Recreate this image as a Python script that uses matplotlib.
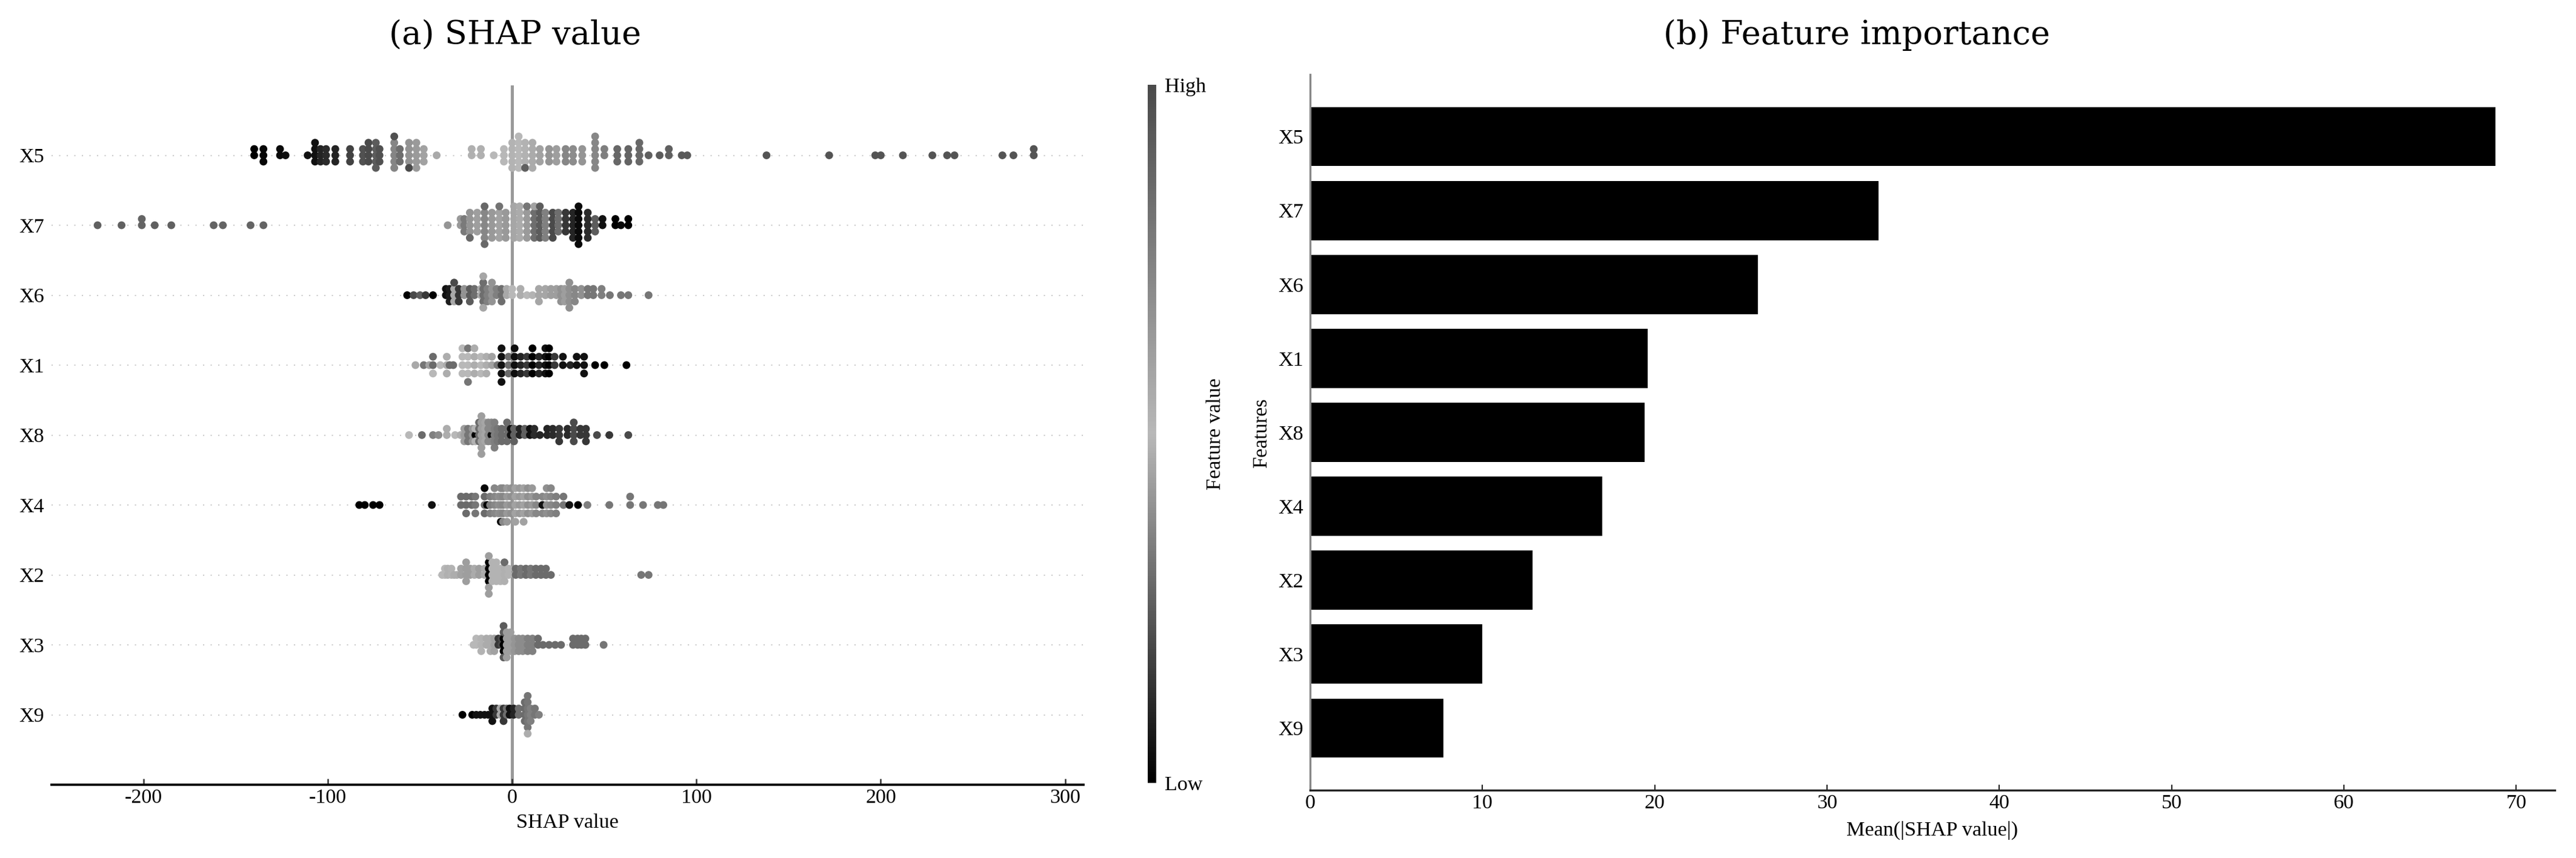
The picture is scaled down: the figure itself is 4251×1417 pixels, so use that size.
import numpy as np
import matplotlib
matplotlib.use('Agg')
import matplotlib.pyplot as plt
from matplotlib.colors import LinearSegmentedColormap
from matplotlib.cm import ScalarMappable

plt.rcParams['font.family'] = ['Liberation Serif', 'DejaVu Serif']
plt.rcParams['font.size'] = 8.2
plt.rcParams['axes.unicode_minus'] = False

#==========================================
# Datos.
# Cada punto: (valor SHAP, cantidad apilada, valor de la variable 0-1)
#==========================================

features = ['X5', 'X7', 'X6', 'X1', 'X8', 'X4', 'X2', 'X3', 'X9']  # de arriba hacia abajo

x5_pts = [(-140, 2, 0.00), (-135, 3, 0.02), (-126, 2, 0.03), (-123, 1, 0.04),
          (-111, 1, 0.05), (-107, 4, 0.05), (-104, 3, 0.10), (-101, 3, 0.12), (-96, 3, 0.10),
          (-88, 3, 0.18), (-81, 3, 0.22), (-78, 4, 0.20), (-74, 5, 0.25), (-72, 3, 0.22),
          (-64, 5, 0.36), (-64, 1, 0.22), (-61, 3, 0.30), (-56, 4, 0.40), (-56, 1, 0.20),
          (-52, 5, 0.42), (-48, 3, 0.44), (-41, 1, 0.46), (-22, 2, 0.48), (-17, 2, 0.48),
          (-10, 1, 0.50), (-4.5, 3, 0.50), (0, 5, 0.52), (3.5, 6, 0.50), (7, 4, 0.53), (7, 1, 0.90),
          (11, 5, 0.56), (15, 3, 0.60), (20, 3, 0.66), (24, 3, 0.62), (29, 3, 0.72), (33, 3, 0.70),
          (38, 3, 0.66), (45, 6, 0.72), (50, 2, 0.76), (57, 3, 0.86), (63, 3, 0.88), (69, 4, 0.86),
          (74, 1, 0.90), (80, 1, 0.92), (85, 2, 0.90), (92, 1, 0.93), (95, 1, 0.93),
          (138, 1, 0.95), (172, 1, 0.95), (197, 1, 0.95), (200, 1, 0.95), (212, 1, 0.95),
          (228, 1, 0.95), (236, 1, 0.95), (240, 1, 0.95), (266, 1, 0.95), (272, 1, 0.95), (283, 2, 0.95)]

x7_pts = [(-225, 1, 0.90), (-212, 1, 0.90), (-201, 2, 0.88), (-194, 1, 0.90), (-185, 1, 0.90),
          (-162, 1, 0.88), (-157, 1, 0.88), (-142, 1, 0.88), (-135, 1, 0.88), (-35, 1, 0.66),
          (-28, 2, 0.64), (-26, 3, 0.78), (-23, 4, 0.66), (-23, 1, 0.86), (-19, 4, 0.62),
          (-15, 5, 0.72), (-15, 2, 0.86), (-11, 5, 0.64), (-7, 5, 0.60), (-7, 1, 0.82),
          (-3.5, 5, 0.64), (1, 6, 0.58), (4, 6, 0.56), (8, 5, 0.42), (8, 1, 0.80),
          (12, 5, 0.30), (12, 1, 0.60), (15, 6, 0.25), (18, 5, 0.35), (22, 5, 0.20), (25, 4, 0.30),
          (29, 4, 0.15), (33, 5, 0.10), (36, 7, 0.03), (41, 5, 0.12), (45, 3, 0.25), (49, 2, 0.05),
          (56, 2, 0.00), (59, 1, 0.02), (63, 2, 0.00)]

x6_pts = [(-57, 1, 0.00), (-53.5, 1, 0.20), (-50, 1, 0.25), (-47, 1, 0.15), (-43, 1, 0.00),
          (-36, 2, 0.05), (-34, 3, 0.08), (-31.5, 3, 0.46), (-31.5, 1, 0.20), (-29, 3, 0.15),
          (-26, 2, 0.40), (-23, 3, 0.25), (-20.5, 2, 0.30), (-17, 2, 0.46), (-15.7, 4, 0.30),
          (-15.7, 2, 0.45), (-13.5, 3, 0.35), (-11, 4, 0.40), (-8.5, 2, 0.35), (-5.8, 3, 0.30),
          (-3, 2, 0.46), (0, 2, 0.50), (4.5, 2, 0.55), (8, 1, 0.50), (11, 1, 0.52), (14.5, 3, 0.58),
          (18, 2, 0.58), (21, 2, 0.62), (24, 2, 0.62), (26.5, 3, 0.67), (28.5, 3, 0.62), (31, 5, 0.68),
          (34, 3, 0.72), (37.5, 2, 0.68), (41, 2, 0.80), (44, 2, 0.80), (48.5, 2, 0.76),
          (53, 1, 0.80), (59, 1, 0.80), (63, 1, 0.80), (74, 1, 0.80)]

x1_pts = [(-52.5, 1, 0.46), (-48, 1, 0.80), (-45, 1, 0.60), (-43, 2, 0.85), (-43, 1, 0.50),
          (-39, 1, 0.50), (-35.5, 3, 0.55), (-34, 1, 0.85), (-32, 1, 0.85), (-27, 4, 0.50),
          (-24, 3, 0.50), (-24, 2, 0.80), (-20.5, 4, 0.55), (-17, 3, 0.50), (-14, 3, 0.55),
          (-11, 2, 0.60), (-8, 1, 0.80), (-5.8, 5, 0.05), (-2, 3, 0.85), (1.3, 4, 0.04),
          (4.6, 3, 0.10), (8, 3, 0.15), (11, 4, 0.00), (14.5, 3, 0.10), (18, 4, 0.05), (20, 4, 0.00),
          (23, 2, 0.15), (27.5, 2, 0.05), (31.5, 1, 0.10), (35, 2, 0.05), (39, 3, 0.05),
          (45, 1, 0.00), (50, 1, 0.00), (62, 1, 0.00)]

x8_pts = [(-56, 1, 0.50), (-49, 1, 0.85), (-43, 1, 0.75), (-40, 1, 0.70), (-35.5, 2, 0.55),
          (-31, 1, 0.50), (-28, 1, 0.55), (-26, 3, 0.62), (-24, 3, 0.80), (-21.5, 3, 0.66),
          (-20, 1, 0.00), (-20, 2, 0.52), (-18, 4, 0.85), (-16.7, 7, 0.62), (-14.7, 4, 0.58),
          (-13, 4, 0.72), (-11.3, 1, 0.04), (-11.3, 3, 0.72), (-9.6, 5, 0.76), (-8, 3, 0.80),
          (-5.7, 3, 0.85), (-2.8, 4, 0.85), (-0.8, 2, 0.05), (1, 3, 0.90), (4, 2, 0.10),
          (6.8, 2, 0.90), (9.6, 2, 0.05), (12, 2, 0.12), (15, 1, 0.10), (19, 2, 0.10), (22, 2, 0.12),
          (25.5, 3, 0.15), (30, 2, 0.12), (33.4, 4, 0.20), (37, 2, 0.15), (40, 3, 0.15),
          (46, 1, 0.20), (52.7, 1, 0.15), (63, 1, 0.20)]

x4_pts = [(-83, 1, 0.00), (-80, 1, 0.00), (-75.5, 1, 0.00), (-72, 1, 0.00), (-43.6, 1, 0.05),
          (-27.8, 2, 0.85), (-25, 3, 0.85), (-22, 2, 0.85), (-20, 3, 0.80), (-15, 3, 0.85),
          (-15, 1, 0.02), (-13.6, 1, 0.00), (-12, 3, 0.76), (-9.6, 4, 0.72), (-7.4, 3, 0.68),
          (-6.2, 4, 0.70), (-6.2, 1, 0.04), (-5, 5, 0.72), (-2.8, 5, 0.64), (-0.6, 4, 0.68),
          (1.7, 5, 0.60), (4, 4, 0.64), (6.2, 5, 0.60), (8.5, 4, 0.68), (10.8, 4, 0.64), (13, 3, 0.72),
          (16.4, 1, 0.05), (16.4, 2, 0.72), (18.7, 4, 0.68), (21, 4, 0.72), (23.8, 3, 0.76),
          (27.8, 2, 0.80), (31, 1, 0.05), (35.7, 1, 0.00), (40.8, 1, 0.76), (52.7, 1, 0.80),
          (64, 2, 0.80), (71, 1, 0.80), (79, 1, 0.80), (82, 1, 0.80)]

x2_pts = [(-38, 1, 0.50), (-36.5, 2, 0.50), (-35, 2, 0.48), (-33, 2, 0.52), (-31.5, 1, 0.55),
          (-30, 1, 0.55), (-27.8, 2, 0.60), (-25, 4, 0.62), (-22.8, 2, 0.62), (-20.5, 2, 0.56),
          (-18, 2, 0.62), (-15, 2, 0.56), (-12.7, 4, 0.00), (-12.7, 3, 0.62), (-10.8, 4, 0.52),
          (-8.6, 4, 0.52), (-6.4, 3, 0.52), (-4.2, 3, 0.48), (-4.2, 1, 0.85), (-2, 2, 0.52),
          (1.9, 2, 0.85), (4.6, 2, 0.80), (7.4, 2, 0.85), (10, 2, 0.80), (12.8, 2, 0.85),
          (15.6, 2, 0.85), (18.3, 2, 0.85), (21, 1, 0.85), (70, 1, 0.80), (74, 1, 0.80)]

x3_pts = [(-21, 1, 0.50), (-19.5, 2, 0.50), (-16.8, 3, 0.52), (-14, 2, 0.56), (-11.8, 3, 0.56),
          (-9.7, 3, 0.60), (-7.5, 2, 0.15), (-5.8, 2, 0.20), (-4.7, 3, 0.00), (-4.7, 3, 0.25),
          (-3, 5, 0.62), (-0.9, 4, 0.62), (1.3, 3, 0.66), (3.5, 3, 0.70), (5.7, 3, 0.70),
          (8.4, 3, 0.75), (11, 3, 0.75), (14, 2, 0.85), (16.7, 1, 0.85), (20, 1, 0.85),
          (23.3, 1, 0.85), (26.5, 1, 0.85), (33, 2, 0.85), (35.5, 2, 0.85), (37.5, 2, 0.85),
          (39.7, 2, 0.85), (49.6, 1, 0.80)]

x9_pts = [(-27, 1, 0.00), (-21.7, 1, 0.00), (-19.5, 1, 0.05), (-17.3, 1, 0.05), (-15, 1, 0.05),
          (-13, 1, 0.05), (-10.8, 3, 0.05), (-8.6, 2, 0.15), (-6.4, 2, 0.45), (-4.7, 3, 0.15),
          (-3, 2, 0.30), (-1.4, 2, 0.05), (0.8, 2, 0.10), (3.5, 2, 0.30), (6.8, 4, 0.85),
          (8.4, 6, 0.80), (8.4, 1, 0.55), (10, 3, 0.75), (12.3, 2, 0.80), (14.5, 1, 0.75)]

swarm_data = [x5_pts, x7_pts, x6_pts, x1_pts, x8_pts, x4_pts, x2_pts, x3_pts, x9_pts]

# Importancia media |SHAP|
importance = [68.8, 33.0, 26.0, 19.6, 19.4, 16.95, 12.9, 10.0, 7.75]

# Mapa de grises (negro -> gris claro -> gris oscuro)
cmap = LinearSegmentedColormap.from_list('gris_shap', ['#000000', '#b8b8b8', '#4a4a4a'])


def beeswarm(pts, fila, row_height=0.4):
    arr = np.array(pts, dtype=float)
    xs = np.repeat(arr[:, 0], arr[:, 1].astype(int))
    cs = np.repeat(arr[:, 2], arr[:, 1].astype(int))
    ys = np.zeros(len(xs))
    # apilado alternado como en shap
    for v in np.unique(xs):
        idx = np.where(xs == v)[0]
        for layer, i in enumerate(idx):
            ys[i] = np.ceil(layer / 2) * ((layer % 2) * 2 - 1)
    ys *= 0.9 * (row_height / np.max(ys + 1))
    return xs, fila + ys, cs


W, H = 4251, 1417
fig = plt.figure(figsize=(W / 300, H / 300), dpi=300)

#=========================
# (a) SHAP value
#=========================
ax1 = fig.add_axes([85 / W, 1 - 1296 / H, (1788 - 85) / W, (1296 - 141) / H])
n = len(features)
for k, pts in enumerate(swarm_data):
    fila = n - 1 - k
    ax1.axhline(fila, color='#cccccc', lw=0.5, dashes=(1, 5), zorder=-1)
    xs, ys, cs = beeswarm(pts, fila)
    ax1.scatter(xs, ys, c=cs, cmap=cmap, vmin=0, vmax=1, s=9.5, linewidth=0, zorder=3)
ax1.axvline(0, color='#999999', lw=1.2, zorder=-1)
ax1.set_ylim(-1, n)
ax1.set_xlim(-250, 310)
ax1.set_yticks(range(n))
ax1.set_yticklabels(features[::-1])
ax1.set_xticks([-200, -100, 0, 100, 200, 300])
for s in ['top', 'right', 'left']:
    ax1.spines[s].set_visible(False)
ax1.spines['bottom'].set_linewidth(0.9)
ax1.spines['bottom'].set_color('black')
ax1.tick_params(axis='y', length=0, pad=3)
ax1.tick_params(axis='x', direction='in', length=2.4, width=0.6, color='#333333', pad=1.5)
ax1.set_xlabel('SHAP value', labelpad=2.5)

# Barra de color
cax = fig.add_axes([1894 / W, 1 - 1293 / H, 14 / W, 1153 / H])
cb = fig.colorbar(ScalarMappable(cmap=cmap), cax=cax, ticks=[0, 1])
cb.set_ticklabels(['Low', 'High'])
cb.outline.set_visible(False)
cb.ax.tick_params(length=0, pad=3.4)
cb.set_label('Feature value', labelpad=0)

#=========================
# (b) Feature importance
#=========================
ax2 = fig.add_axes([2162 / W, 1 - 1305 / H, (4216 - 2162) / W, (1305 - 123) / H])
pos = np.arange(n)[::-1]
ax2.barh(pos, importance, height=0.8, color='black')
ax2.set_yticks(pos)
ax2.set_yticklabels(features)
ax2.set_xticks(range(0, 71, 10))
for s in ['top', 'right']:
    ax2.spines[s].set_visible(False)
ax2.spines['left'].set_color('#888888')
ax2.spines['left'].set_linewidth(0.8)
ax2.spines['bottom'].set_color('#222222')
ax2.spines['bottom'].set_linewidth(0.8)
ax2.tick_params(axis='y', length=0, pad=2.6)
ax2.tick_params(axis='x', direction='in', length=2.2, width=0.5, color='#222222', pad=1.5)
ax2.set_xlabel('Mean(|SHAP value|)', labelpad=3.4)
ax2.set_ylabel('Features', labelpad=3)

# Titulos
fig.text(850 / W, 1 - 73 / H, '(a) SHAP value', ha='center', va='baseline',
         fontsize=13, family='DejaVu Serif')
fig.text(3064 / W, 1 - 73 / H, '(b) Feature importance', ha='center', va='baseline',
         fontsize=13, family='DejaVu Serif')

fig.savefig('out.png', dpi=300)
